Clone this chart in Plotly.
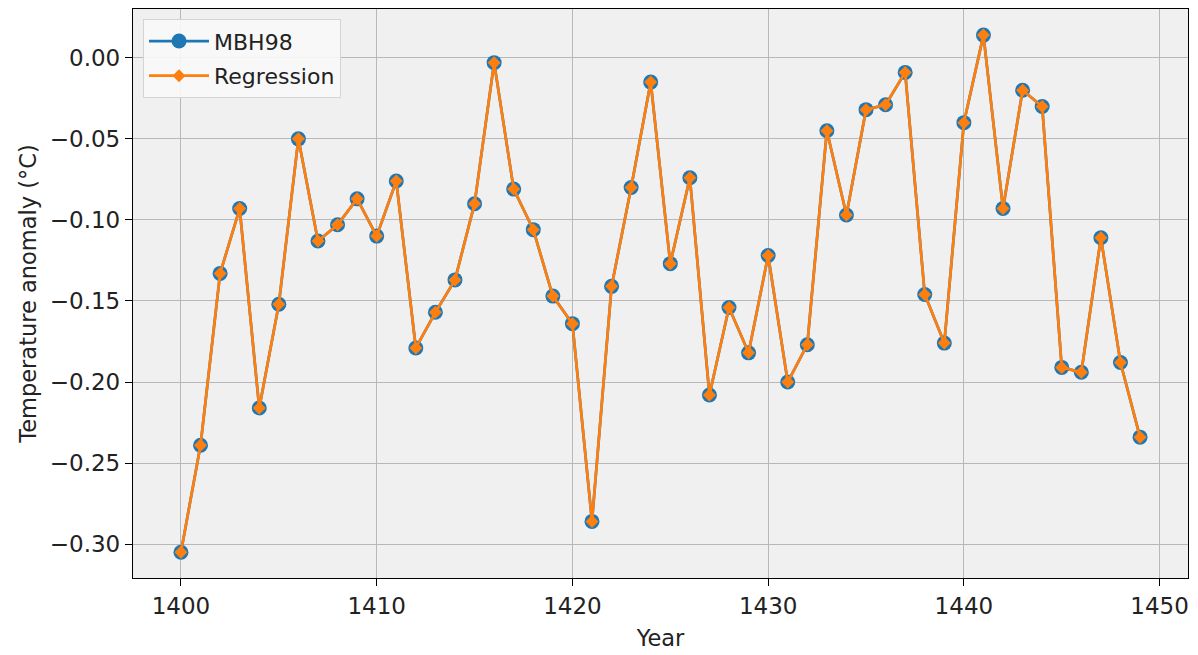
import plotly.graph_objects as go

years = list(range(1400, 1450))
mbh98 = [-0.305, -0.239, -0.133, -0.093, -0.216, -0.152, -0.050, -0.113, -0.103, -0.087,
         -0.110, -0.076, -0.179, -0.157, -0.137, -0.090, -0.003, -0.081, -0.106, -0.147,
         -0.164, -0.286, -0.141, -0.080, -0.015, -0.127, -0.074, -0.208, -0.154, -0.182,
         -0.122, -0.200, -0.177, -0.045, -0.097, -0.032, -0.029, -0.009, -0.146, -0.176,
         -0.040, 0.014, -0.093, -0.020, -0.030, -0.191, -0.194, -0.111, -0.188, -0.234]
regression = list(mbh98)

x_ticks = [1400, 1410, 1420, 1430, 1440, 1450]
y_ticks = [-0.30, -0.25, -0.20, -0.15, -0.10, -0.05, 0.00]

font = "DejaVu Sans, Liberation Sans, sans-serif"

fig = go.Figure()
fig.add_trace(go.Scatter(
    x=years, y=mbh98, name="MBH98", mode="lines+markers", legendgroup="a",
    line=dict(color="#1f77b4", width=2.7),
    marker=dict(symbol="circle", size=15, color="#1f77b4"),
))
fig.add_trace(go.Scatter(
    x=years, y=regression, name="Regression", mode="lines+markers", legendgroup="b",
    line=dict(color="#ff7f0e", width=2.7),
    marker=dict(symbol="diamond", size=10, color="#ff7f0e"),
))

fig.update_layout(
    width=1198, height=655,
    margin=dict(l=133, r=10, t=8, b=76),
    paper_bgcolor="white",
    plot_bgcolor="#f0f0f0",
    font=dict(family=font, size=23, color="#222222"),
    showlegend=True,
    legend=dict(
        x=0.0095, y=0.982, xanchor="left", yanchor="top",
        bgcolor="rgba(248,248,248,0.9)", bordercolor="#d4d4d4", borderwidth=1,
        font=dict(size=22, color="#222222"),
        traceorder="grouped", tracegroupgap=3, itemwidth=60,
    ),
    xaxis=dict(
        range=[1397.55, 1451.45], tickvals=x_ticks,
        showgrid=True, gridcolor="#b8b8b8", gridwidth=1.3,
        showline=True, linecolor="black", linewidth=1.3, mirror=True,
        ticks="outside", ticklen=7, tickcolor="black", tickwidth=1.3,
        zeroline=False,
        title=dict(text="Year", standoff=12, font=dict(size=22.5)),
    ),
    yaxis=dict(
        range=[-0.3209, 0.0301], tickvals=y_ticks, tickformat=".2f",
        showgrid=True, gridcolor="#b8b8b8", gridwidth=1.3,
        showline=True, linecolor="black", linewidth=1.3, mirror=True,
        ticks="outside", ticklen=7, tickcolor="black", tickwidth=1.3,
        zeroline=False,
        title=dict(text="Temperature anomaly (°C)", standoff=6, font=dict(size=22.5)),
    ),
)

fig.write_html("out.html")
